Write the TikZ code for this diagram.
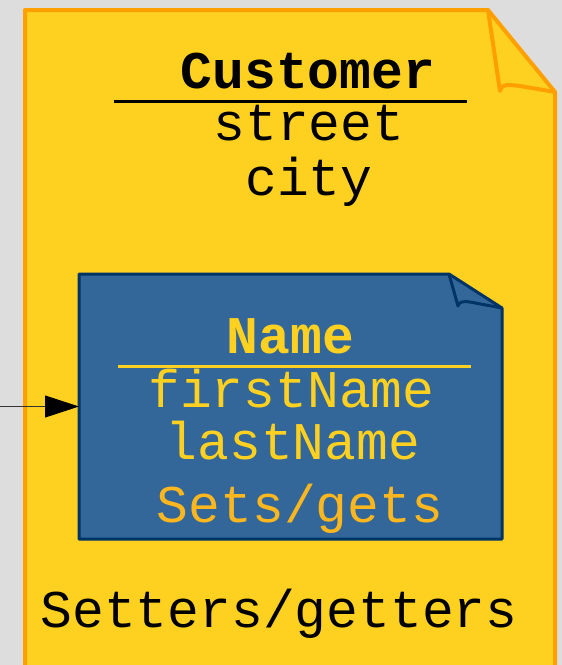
\documentclass[tikz,border=0pt]{standalone}
\usepackage{fontspec}
\setmonofont{Liberation Mono}
\usetikzlibrary{arrows.meta}
\definecolor{canvas}{HTML}{DDDDDD}
\definecolor{notefill}{HTML}{FED120}
\definecolor{noteedge}{HTML}{FFA000}
\definecolor{boxfill}{HTML}{336699}
\definecolor{boxedge}{HTML}{003366}
\definecolor{attrtext}{HTML}{FED120}
\definecolor{optext}{HTML}{FDB71E}
\definecolor{wire}{HTML}{333333}
\tikzset{
  txt/.style={font=\ttfamily\fontsize{53}{53}\selectfont, inner sep=0pt, anchor=base},
  boldtxt/.style={txt, font=\ttfamily\bfseries\fontsize{53}{53}\selectfont},
  outernote/.style={fill=notefill, draw=noteedge, line width=4pt, line join=round},
  innernote/.style={fill=boxfill, draw=boxedge, line width=3pt, line join=round},
  frame/.style={inner sep=0pt, outer sep=0pt, draw=none},
}
\begin{document}
\begin{tikzpicture}[x=1pt, y=-1pt]
\path[use as bounding box] (0,0) rectangle (562,665);
\fill[canvas] (0,0) rectangle (562,665);
\clip (0,0) rectangle (562,665);

% Customer note with folded corner
\node[frame, minimum width=530pt, minimum height=690pt] (customer) at (290,355) {};
\draw[outernote] (25,10) -- (488,10) -- (555,92) -- (555,700) -- (25,700) -- cycle;
\draw[outernote, fill=none] (488,10) -- (500,91) .. controls (501,85) and (505,84) .. (520,86) -- (555,92);

\node[boldtxt] (custtitle) at (308,88) {Customer};
\draw[line width=3pt] (114,101) -- (467,101);
\node[txt] (street) at (309,140) {street};
\node[txt] (city) at (309,195) {city};
\node[txt] (setget) at (279,627) {Setters/getters};

% Name note with folded corner
\node[frame, minimum width=423pt, minimum height=265pt] (namebox) at (290.5,406.5) {};
\draw[innernote] (79,274) -- (449,274) -- (502,308) -- (502,539) -- (79,539) -- cycle;
\draw[innernote, fill=none] (449,274) -- (458,306) .. controls (459,302) and (462,301) .. (470,302) -- (502,308);

\node[boldtxt, text=attrtext] (nametitle) at (290.5,353) {Name};
\draw[attrtext, line width=3pt] (118,366) -- (471,366);
\node[txt, text=attrtext] (first) at (291.5,407) {firstName};
\node[txt, text=attrtext] (last) at (293,459) {lastName};
\node[txt, text=optext] (setsgets) at (300,522) {Sets/gets};

% incoming association
\coordinate (src) at (0,406.5);
\draw[wire, line width=1pt, -{Triangle[length=34pt, width=22pt, black]}] (src) -- (namebox.west);
\end{tikzpicture}
\end{document}
